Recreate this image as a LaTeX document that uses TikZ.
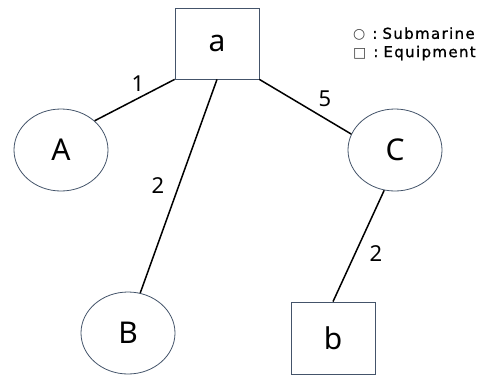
\documentclass[tikz,border=0pt]{standalone}
\usepackage{fontspec}
\setmainfont{Noto Sans}
\newfontfamily\legendfont[LetterSpace=9,FakeBold=1]{DejaVu Sans}
\newfontfamily\symfont{DejaVu Sans}
\usetikzlibrary{shapes.geometric}
\definecolor{shapeline}{HTML}{44546A}
\tikzset{
  sub/.style={ellipse, draw=shapeline, line width=0.8pt, minimum width=94pt, minimum height=82pt, inner sep=0pt, font=\fontsize{30}{30}\selectfont},
  equip/.style={rectangle, draw=shapeline, line width=0.8pt, minimum width=84pt, minimum height=71pt, inner sep=0pt, font=\fontsize{30}{30}\selectfont},
  link/.style={draw=black, line width=1.5pt},
  wlabel/.style={font=\fontsize{22}{22}\selectfont, inner sep=0pt},
  legend/.style={font=\legendfont\fontsize{15}{15}\selectfont, inner sep=0pt, anchor=west}
}
\newcommand{\legsym}[1]{{\symfont\fontsize{14}{14}\selectfont\textcolor{darkgray}{#1}}}
\begin{document}
\begin{tikzpicture}[x=1pt,y=-1pt]
\useasboundingbox (0,0) rectangle (487,376);
% nodes
\node[equip] (a) at (217,43.5) {a};
\node[sub] (A) at (61,150) {A};
\node[sub] (C) at (395,150) {C};
\node[sub] (B) at (128,333) {B};
\node[equip, minimum height=72pt] (b) at (333,338) {b};
% connectors
\draw[link] (a.south west) -- (A.41);
\draw[link] (a.south) -- (B.73);
\draw[link] (a.south east) -- (C.160);
\draw[link] (C.255) -- (b.north);
% weights
\node[wlabel] (w1) at (138,84) {1};
\node[wlabel] (w2) at (158,186) {2};
\node[wlabel] (w5) at (325,99) {5};
\node[wlabel] (w3) at (376,254) {2};
% legend
\node[legend] (l1) at (353,34) {\legsym{○}\hspace{7pt}:\hspace{5pt}Submarine};
\node[legend] (l2) at (353,53) {\legsym{□}\hspace{7pt}:\hspace{5pt}Equipment};
\end{tikzpicture}
\end{document}
